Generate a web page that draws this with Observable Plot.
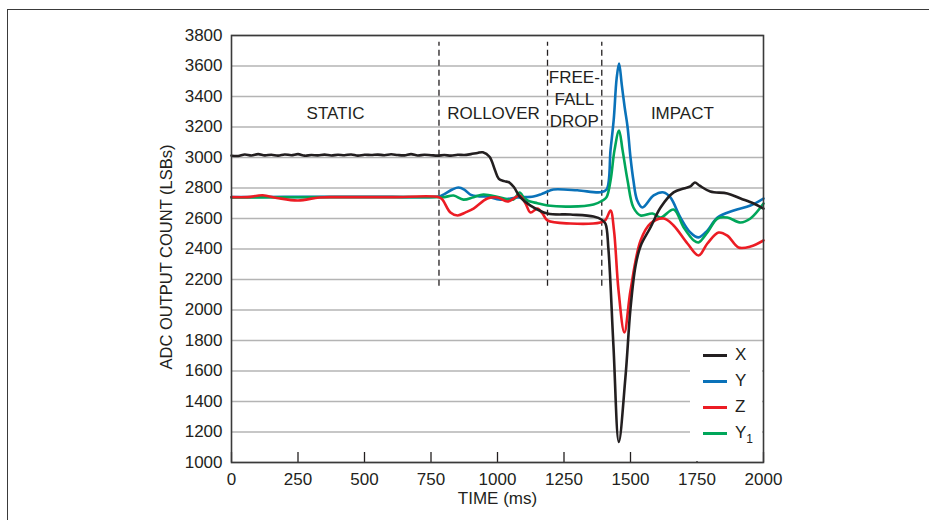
<!DOCTYPE html>
<html>
<head>
<meta charset="utf-8">
<script src="https://cdn.jsdelivr.net/npm/d3@7"></script>
<script src="https://cdn.jsdelivr.net/npm/@observablehq/plot@0.6"></script>
<style>
  html, body { margin: 0; padding: 0; background: #fff; }
  #wrap { position: relative; width: 929px; height: 520px; overflow: hidden; font-family: "Liberation Sans", Arial, sans-serif; color: #231f20; }
  #outer { position: absolute; left: 7px; top: 9px; width: 1200px; height: 1200px; border-left: 1.5px solid #3a3a3a; border-top: 1.5px solid #3a3a3a; }
  #legend { position: absolute; left: 690px; top: 344px; width: 72px; height: 117px; background: #fff; }
  .item { position: absolute; left: 13px; height: 20px; font-size: 17px; line-height: 20px; }
  .item span.sw { position: absolute; left: 0; top: 9px; width: 24px; height: 3px; }
  .item span.lb { position: absolute; left: 32px; top: 0; white-space: nowrap; }
  .item sub { font-size: 12px; vertical-align: -5px; line-height: 0; }
</style>
</head>
<body>
<div id="wrap">
  <div id="outer"></div>
  <div id="chart"></div>
  <div id="legend"></div>
</div>
<script>
// ---- data ----
const xTicks = [0, 250, 500, 750, 1000, 1250, 1500, 1750, 2000];
const yTicks = [1000, 1200, 1400, 1600, 1800, 2000, 2200, 2400, 2600, 2800, 3000, 3200, 3400, 3600, 3800];

const seriesNames = ["X", "Y", "Z", "Y1"];
const seriesColors = ["#231f20", "#0a72b9", "#ec1c24", "#00a65a"];

const phaseBounds = [780, 1188, 1392];
const phaseLabels = ["STATIC", "ROLLOVER", "FREE-\nFALL\nDROP", "IMPACT"];
const phaseLabelTimes = [391, 985, 1289, 1695];
const phaseLabelLevels = [3300, 3300, 3393, 3300];

const xTime = [0,25,50,75,100,125,150,175,200,225,250,275,300,325,350,375,400,425,450,475,500,525,550,575,600,625,650,675,700,725,750,775,800,825,850,875,900,925,945,970,990,1005,1025,1045,1062,1086,1124,1188,1274,1361,1392,1406,1417,1436,1456,1481,1500,1519,1538,1575,1613,1662,1700,1725,1742,1760,1800,1864,1914,1963,2000];
const xValue = [3012,3010,3020,3013,3022,3014,3018,3012,3020,3015,3022,3012,3016,3014,3019,3013,3018,3015,3020,3012,3018,3016,3019,3015,3021,3016,3014,3022,3013,3018,3015,3012,3016,3012,3018,3016,3022,3030,3034,3005,2920,2860,2845,2836,2805,2738,2685,2633,2626,2613,2592,2565,2400,1760,1135,1560,2010,2290,2420,2541,2672,2771,2797,2810,2836,2815,2777,2764,2731,2698,2665];

const yTime = [0,200,400,600,780,800,830,853,875,898,930,962,1011,1075,1135,1165,1188,1210,1300,1387,1410,1425,1437,1448,1457,1467,1478,1489,1500,1511,1525,1545,1587,1625,1650,1688,1725,1756,1789,1827,1888,1951,2000];
const yValue = [2740,2742,2742,2742,2744,2760,2790,2803,2790,2757,2745,2744,2724,2738,2744,2760,2777,2790,2785,2772,2790,3050,3250,3520,3616,3480,3330,3200,3000,2849,2720,2672,2751,2771,2738,2606,2508,2476,2521,2606,2652,2685,2731];

const zTime = [0,60,117,170,250,330,400,600,780,793,823,850,880,910,962,1000,1037,1060,1083,1105,1124,1150,1169,1188,1274,1387,1406,1425,1438,1455,1477,1500,1538,1575,1625,1662,1714,1756,1789,1831,1864,1906,1951,2000];
const zValue = [2740,2740,2752,2735,2718,2738,2740,2740,2740,2724,2639,2620,2640,2665,2731,2738,2711,2730,2751,2700,2639,2665,2633,2587,2567,2574,2590,2652,2520,2128,1852,2128,2456,2567,2600,2554,2436,2357,2436,2508,2488,2410,2416,2456];

const y1Time = [0,400,780,800,835,872,910,947,1011,1060,1083,1100,1113,1150,1188,1274,1361,1395,1410,1425,1440,1457,1470,1489,1511,1538,1583,1613,1662,1700,1738,1756,1789,1827,1864,1914,1951,2000];
const y1Value = [2738,2740,2740,2740,2751,2724,2740,2757,2738,2724,2770,2735,2718,2700,2685,2678,2692,2718,2740,2849,3050,3177,3050,2849,2672,2620,2633,2606,2659,2541,2456,2443,2508,2600,2606,2574,2600,2698];

// ---- build table ----
const times = [xTime, yTime, zTime, y1Time];
const values = [xValue, yValue, zValue, y1Value];
const rows = [];
seriesNames.forEach((s, i) => times[i].forEach((t, j) => rows.push({series: s, t, v: values[i][j]})));
const colorOf = Object.fromEntries(seriesNames.map((s, i) => [s, seriesColors[i]]));
const drawOrder = ["Y", "Y1", "Z", "X"];

const phaseRows = phaseLabels.map((label, i) => ({label, t: phaseLabelTimes[i], v: phaseLabelLevels[i]}));

const chart = Plot.plot({
  width: 929,
  height: 520,
  marginLeft: 231,
  marginRight: 166,
  marginTop: 35,
  marginBottom: 58,
  style: {fontFamily: "'Liberation Sans', Arial, sans-serif", fontSize: "17px", color: "#231f20", background: "transparent", overflow: "visible"},
  x: {domain: [0, 2000], ticks: xTicks, tickSize: 0, tickPadding: 10, label: null, tickFormat: d => String(d)},
  y: {domain: [1000, 3800], ticks: yTicks, tickSize: 0, tickPadding: 9, label: null, tickFormat: d => String(d)},
  marks: [
    Plot.ruleY(yTicks, {stroke: "#b4b4b4", strokeWidth: 1.5}),
    Plot.ruleX(phaseBounds, {y1: 2155, y2: 3755, stroke: "#231f20", strokeWidth: 1.3, strokeDasharray: "6,4"}),
    ...drawOrder.map(s => Plot.line(rows.filter(r => r.series === s), {x: "t", y: "v", stroke: colorOf[s], strokeWidth: 2.6, curve: "catmull-rom"})),
    Plot.text(phaseRows, {x: "t", y: "v", text: "label", fontSize: 17, lineHeight: 1.3, fill: "#231f20"}),
    Plot.tickX(xTicks, {stroke: "#231f20", strokeWidth: 1.3, insetTop: 417}),
    Plot.frame({stroke: "#3a3a3a", strokeWidth: 1.6}),
    Plot.text(["TIME (ms)"], {frameAnchor: "bottom", dy: 41, fontSize: 17, fill: "#231f20"}),
    Plot.text(["ADC OUTPUT COUNT (LSBs)"], {frameAnchor: "left", textAnchor: "middle", dx: -65, dy: 8, rotate: -90, fontSize: 16.5, fill: "#231f20"})
  ]
});
document.getElementById("chart").appendChild(chart);

// legend
const legend = document.getElementById("legend");
const rowTops = [1, 27, 53, 79];
seriesNames.forEach((s, i) => {
  const d = document.createElement("div");
  d.className = "item";
  d.style.top = rowTops[i] + "px";
  const sw = document.createElement("span");
  sw.className = "sw";
  sw.style.background = seriesColors[i];
  const lb = document.createElement("span");
  lb.className = "lb";
  if (s === "Y1") { lb.innerHTML = "Y<sub>1</sub>"; } else { lb.textContent = s; }
  d.appendChild(sw); d.appendChild(lb);
  legend.appendChild(d);
});
</script>
</body>
</html>
